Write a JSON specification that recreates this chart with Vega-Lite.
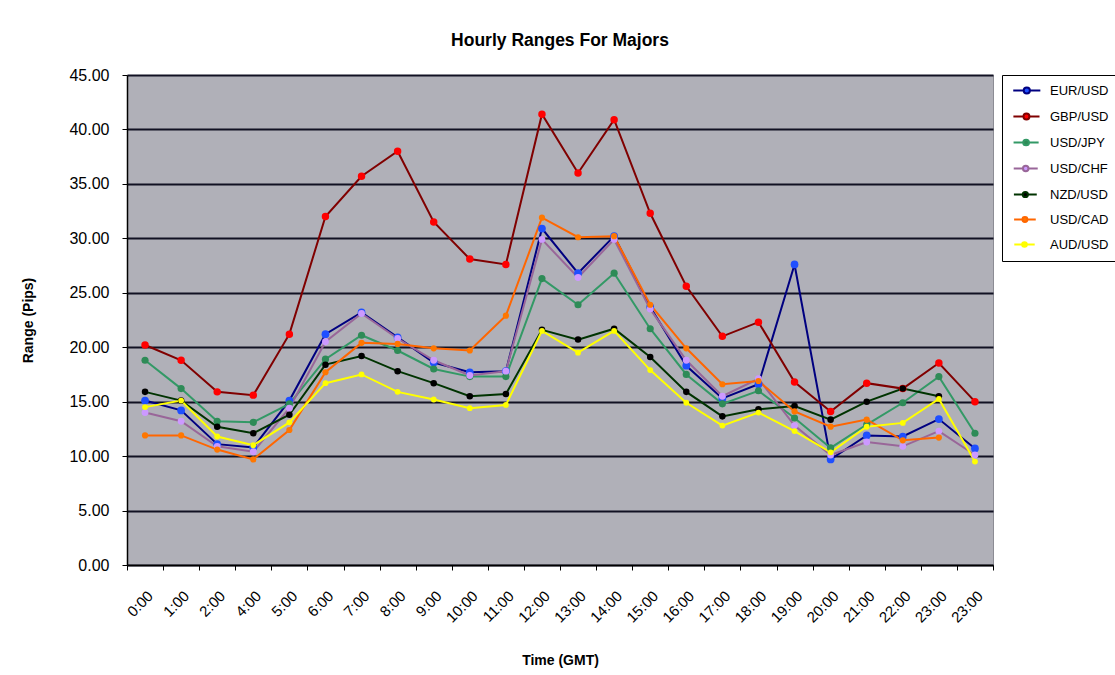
{
  "$schema": "https://vega.github.io/schema/vega-lite/v6.json",
  "width": 866,
  "height": 490,
  "autosize": {"type": "none"},
  "padding": {"left": 127, "top": 75, "right": 122, "bottom": 110},
  "background": "white",
  "title": {"text": "Hourly Ranges For Majors", "fontSize": 17.5, "fontWeight": "bold", "font": "Liberation Sans", "color": "#000", "offset": 18},
  "data": {
    "values": [
      {"slot": 0, "EUR/USD": 15.1, "GBP/USD": 20.2, "USD/JPY": 18.8, "USD/CHF": 14.0, "NZD/USD": 15.9, "USD/CAD": 11.9, "AUD/USD": 14.5},
      {"slot": 1, "EUR/USD": 14.2, "GBP/USD": 18.8, "USD/JPY": 16.2, "USD/CHF": 13.2, "NZD/USD": 15.1, "USD/CAD": 11.9, "AUD/USD": 15.1},
      {"slot": 2, "EUR/USD": 11.1, "GBP/USD": 15.9, "USD/JPY": 13.2, "USD/CHF": 10.9, "NZD/USD": 12.7, "USD/CAD": 10.6, "AUD/USD": 11.8},
      {"slot": 3, "EUR/USD": 10.8, "GBP/USD": 15.6, "USD/JPY": 13.1, "USD/CHF": 10.4, "NZD/USD": 12.1, "USD/CAD": 9.7, "AUD/USD": 11.0},
      {"slot": 4, "EUR/USD": 15.1, "GBP/USD": 21.2, "USD/JPY": 14.8, "USD/CHF": 14.4, "NZD/USD": 13.8, "USD/CAD": 12.4, "AUD/USD": 13.1},
      {"slot": 5, "EUR/USD": 21.2, "GBP/USD": 32.0, "USD/JPY": 18.9, "USD/CHF": 20.5, "NZD/USD": 18.4, "USD/CAD": 17.7, "AUD/USD": 16.7},
      {"slot": 6, "EUR/USD": 23.2, "GBP/USD": 35.7, "USD/JPY": 21.1, "USD/CHF": 23.1, "NZD/USD": 19.2, "USD/CAD": 20.4, "AUD/USD": 17.5},
      {"slot": 7, "EUR/USD": 20.9, "GBP/USD": 38.0, "USD/JPY": 19.7, "USD/CHF": 20.8, "NZD/USD": 17.8, "USD/CAD": 20.3, "AUD/USD": 15.9},
      {"slot": 8, "EUR/USD": 18.6, "GBP/USD": 31.5, "USD/JPY": 18.0, "USD/CHF": 18.8, "NZD/USD": 16.7, "USD/CAD": 19.9, "AUD/USD": 15.2},
      {"slot": 9, "EUR/USD": 17.7, "GBP/USD": 28.1, "USD/JPY": 17.3, "USD/CHF": 17.4, "NZD/USD": 15.5, "USD/CAD": 19.7, "AUD/USD": 14.4},
      {"slot": 10, "EUR/USD": 17.8, "GBP/USD": 27.6, "USD/JPY": 17.3, "USD/CHF": 17.8, "NZD/USD": 15.7, "USD/CAD": 22.9, "AUD/USD": 14.7},
      {"slot": 11, "EUR/USD": 30.9, "GBP/USD": 41.4, "USD/JPY": 26.3, "USD/CHF": 29.9, "NZD/USD": 21.6, "USD/CAD": 31.9, "AUD/USD": 21.5},
      {"slot": 12, "EUR/USD": 26.8, "GBP/USD": 36.0, "USD/JPY": 23.9, "USD/CHF": 26.4, "NZD/USD": 20.7, "USD/CAD": 30.1, "AUD/USD": 19.5},
      {"slot": 13, "EUR/USD": 30.2, "GBP/USD": 40.9, "USD/JPY": 26.8, "USD/CHF": 29.9, "NZD/USD": 21.7, "USD/CAD": 30.2, "AUD/USD": 21.5},
      {"slot": 14, "EUR/USD": 23.7, "GBP/USD": 32.3, "USD/JPY": 21.7, "USD/CHF": 23.5, "NZD/USD": 19.1, "USD/CAD": 23.9, "AUD/USD": 17.9},
      {"slot": 15, "EUR/USD": 18.3, "GBP/USD": 25.6, "USD/JPY": 17.5, "USD/CHF": 18.8, "NZD/USD": 15.9, "USD/CAD": 19.9, "AUD/USD": 14.9},
      {"slot": 16, "EUR/USD": 15.3, "GBP/USD": 21.0, "USD/JPY": 14.8, "USD/CHF": 15.5, "NZD/USD": 13.65, "USD/CAD": 16.6, "AUD/USD": 12.8},
      {"slot": 17, "EUR/USD": 16.6, "GBP/USD": 22.3, "USD/JPY": 16.0, "USD/CHF": 17.1, "NZD/USD": 14.3, "USD/CAD": 16.9, "AUD/USD": 14.0},
      {"slot": 18, "EUR/USD": 27.6, "GBP/USD": 16.8, "USD/JPY": 13.5, "USD/CHF": 12.8, "NZD/USD": 14.6, "USD/CAD": 14.1, "AUD/USD": 12.3},
      {"slot": 19, "EUR/USD": 9.7, "GBP/USD": 14.1, "USD/JPY": 10.75, "USD/CHF": 10.1, "NZD/USD": 13.35, "USD/CAD": 12.7, "AUD/USD": 10.35},
      {"slot": 20, "EUR/USD": 11.9, "GBP/USD": 16.7, "USD/JPY": 12.9, "USD/CHF": 11.3, "NZD/USD": 15.0, "USD/CAD": 13.35, "AUD/USD": 12.7},
      {"slot": 21, "EUR/USD": 11.8, "GBP/USD": 16.2, "USD/JPY": 14.9, "USD/CHF": 10.9, "NZD/USD": 16.2, "USD/CAD": 11.45, "AUD/USD": 13.05},
      {"slot": 22, "EUR/USD": 13.4, "GBP/USD": 18.55, "USD/JPY": 17.3, "USD/CHF": 12.3, "NZD/USD": 15.5, "USD/CAD": 11.7, "AUD/USD": 15.25},
      {"slot": 23, "EUR/USD": 10.7, "GBP/USD": 15.0, "USD/JPY": 12.1, "USD/CHF": 10.1, "NZD/USD": null, "USD/CAD": null, "AUD/USD": 9.5}
    ]
  },
  "transform": [
    {"fold": ["EUR/USD", "GBP/USD", "USD/JPY", "USD/CHF", "NZD/USD", "USD/CAD", "AUD/USD"], "as": ["pair", "range"]}
  ],
  "encoding": {
    "x": {
      "field": "slot",
      "type": "ordinal",
      "bandPosition": 0.5,
      "scale": {"type": "band", "paddingInner": 0, "paddingOuter": 0},
      "axis": {
        "title": "Time (GMT)",
        "titleFontSize": 14,
        "titleFontWeight": "bold",
        "titlePadding": 28,
        "labelAngle": -45,
        "labelFontSize": 15,
        "labelPadding": 18,
        "tickBand": "extent",
        "tickSize": 5,
        "grid": false,
        "domainWidth": 1.5,
        "labelExpr": "['0:00','1:00','2:00','4:00','5:00','6:00','7:00','8:00','9:00','10:00','11:00','12:00','13:00','14:00','15:00','16:00','17:00','18:00','19:00','20:00','21:00','22:00','23:00','23:00'][datum.value]"
      }
    },
    "y": {
      "field": "range",
      "type": "quantitative",
      "scale": {"domain": [0, 45], "nice": false},
      "axis": {
        "title": "Range (Pips)",
        "titleFontSize": 14,
        "titleFontWeight": "bold",
        "titlePadding": 33,
        "values": [0, 5, 10, 15, 20, 25, 30, 35, 40, 45],
        "format": ".2f",
        "labelFontSize": 16,
        "labelPadding": 13,
        "tickSize": 5,
        "grid": true,
        "gridColor": "#111122",
        "gridWidth": 2,
        "domainWidth": 1.5
      }
    }
  },
  "layer": [
    {
      "mark": {"type": "line", "strokeWidth": 2},
      "encoding": {
        "color": {
          "field": "pair",
          "type": "nominal",
          "scale": {
            "domain": ["EUR/USD", "GBP/USD", "USD/JPY", "USD/CHF", "NZD/USD", "USD/CAD", "AUD/USD"],
            "range": ["#000080", "#800000", "#339966", "#996699", "#003300", "#ff6600", "#ffff00"]
          },
          "legend": {
            "title": null,
            "orient": "right",
            "offset": 9,
            "padding": 9,
            "strokeColor": "#000",
            "fillColor": "#fff",
            "symbolType": "M-1.1,0H1.6M3.2,0H5.9M1.6,0A0.8,0.8 0 1,0 3.2,0A0.8,0.8 0 1,0 1.6,0Z",
            "symbolSize": 100,
            "symbolStrokeWidth": 2,
            "labelFontSize": 13,
            "labelFont": "Liberation Sans",
            "labelColor": "#000",
            "labelOffset": 26,
            "rowPadding": 11,
            "encode": {"symbols": {"update": {"fill": {"scale": "fill", "field": "value"}, "opacity": {"value": 1}}}}
          }
        }
      }
    },
    {
      "mark": {"type": "circle", "opacity": 1, "strokeWidth": 0},
      "encoding": {
        "fill": {
          "field": "pair",
          "type": "nominal",
          "scale": {
            "domain": ["EUR/USD", "GBP/USD", "USD/JPY", "USD/CHF", "NZD/USD", "USD/CAD", "AUD/USD"],
            "range": ["#1f4fff", "#ff0000", "#2e8b57", "#cc99ff", "#000000", "#ff7700", "#ffff00"]
          },
          "legend": null
        },
        "size": {
          "field": "pair",
          "type": "nominal",
          "scale": {
            "domain": ["EUR/USD", "GBP/USD", "USD/JPY", "USD/CHF", "NZD/USD", "USD/CAD", "AUD/USD"],
            "range": [60, 34, 60, 34, 60, 34, 60]
          },
          "legend": null
        }
      }
    }
  ],
  "config": {
    "font": "Liberation Sans",
    "view": {"fill": "#b0b0b8", "stroke": "#8c8c94"},
    "axis": {
      "labelFont": "Liberation Sans",
      "titleFont": "Liberation Sans",
      "labelColor": "#000",
      "titleColor": "#000",
      "domainColor": "#000",
      "tickColor": "#000"
    }
  }
}
